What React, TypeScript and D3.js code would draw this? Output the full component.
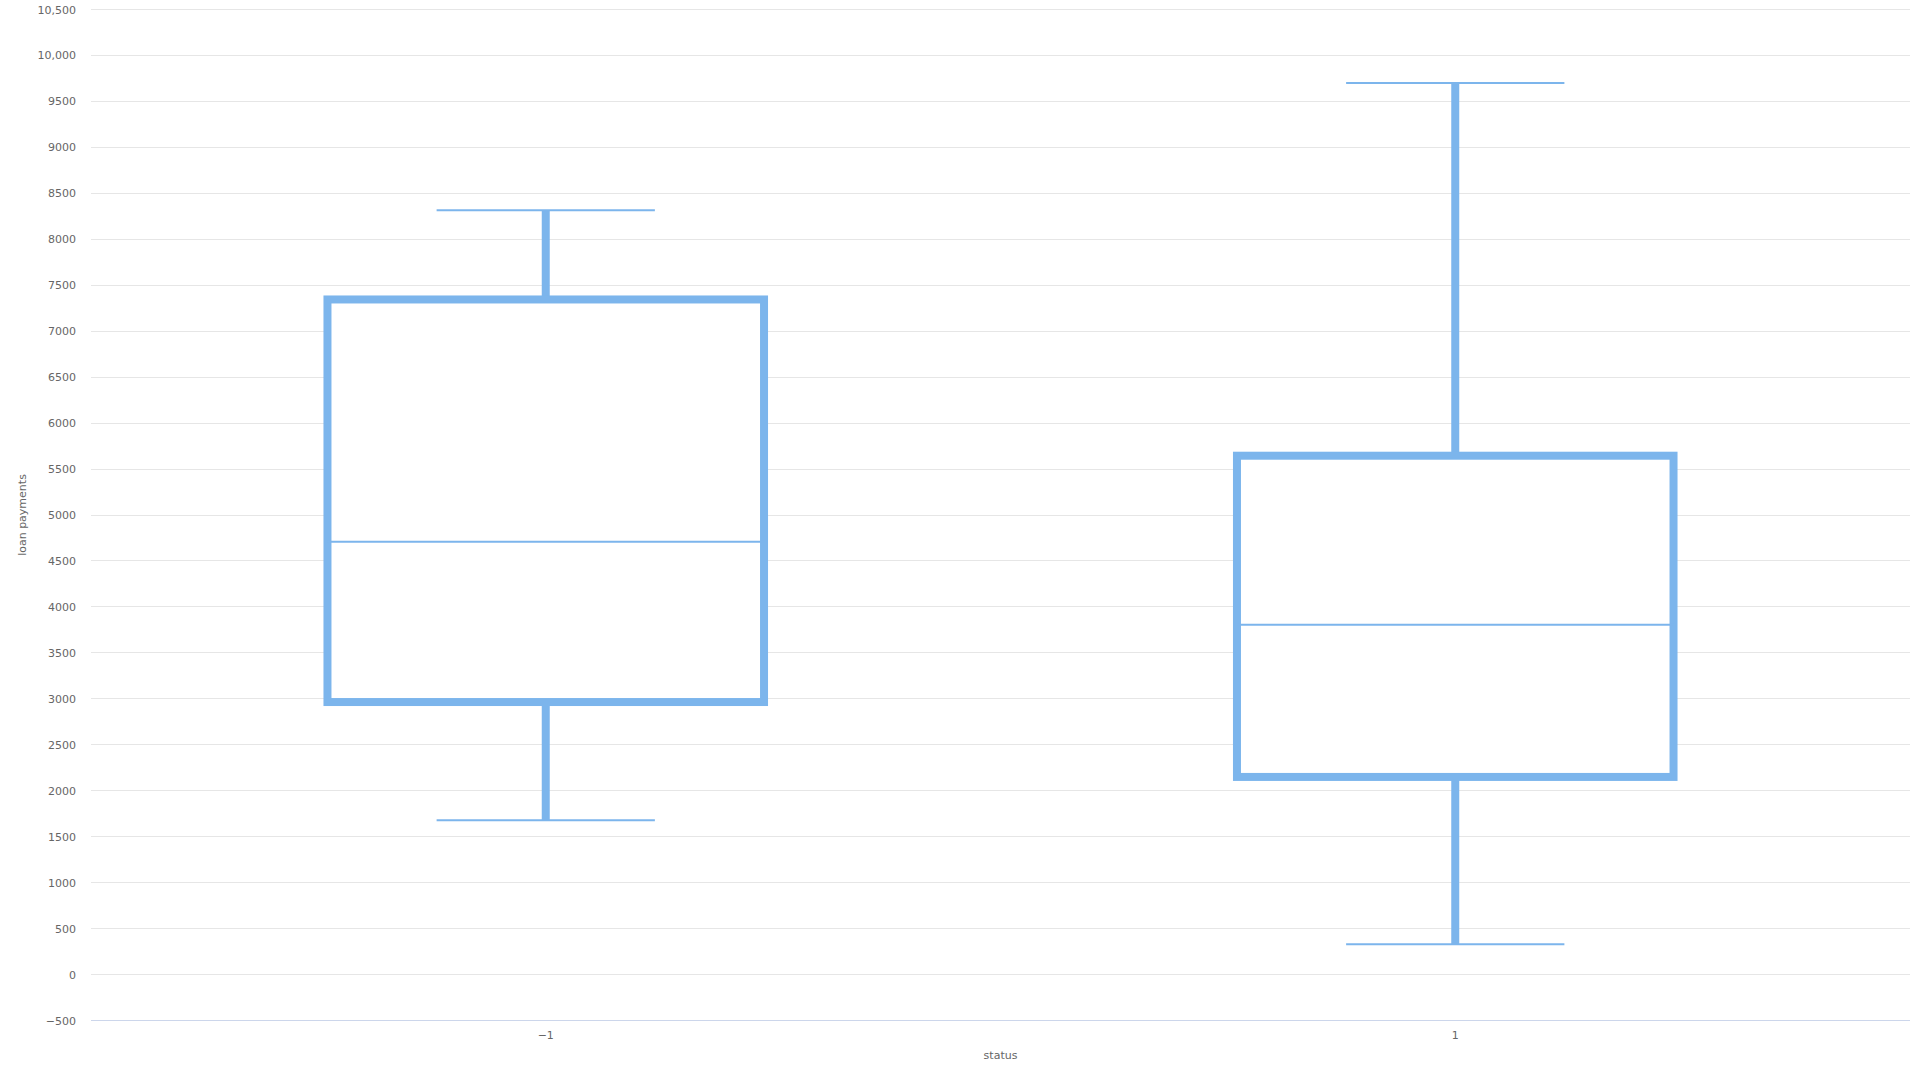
import { useRef, useEffect } from 'react';
import * as d3 from 'd3';

// box plot data
const categories = ['-1', '1'];
const lowValues = [1680, 330];
const q1Values = [2965, 2150];
const medianValues = [4710, 3805];
const q3Values = [7345, 5645];
const highValues = [8315, 9700];

const yTicks = [-500, 0, 500, 1000, 1500, 2000, 2500, 3000, 3500, 4000, 4500, 5000,
  5500, 6000, 6500, 7000, 7500, 8000, 8500, 9000, 9500, 10000, 10500];

const WIDTH = 1920;
const HEIGHT = 1080;
const FONT = '"DejaVu Sans", "Lucida Grande", sans-serif';
const COLOR = '#7cb5ec';

const App = () => {
  const svgRef = useRef<SVGSVGElement>(null);

  useEffect(() => {
    const svg = d3.select(svgRef.current);
    svg.selectAll('*').remove();

    const left = 91;
    const right = 1910;
    const top = 9.5;
    const bottom = 1020.5;

    const x = d3.scaleBand<string>()
      .domain(categories)
      .range([left, right])
      .padding(0);

    const y = d3.scaleLinear()
      .domain([-500, 10500])
      .range([bottom, top]);

    const crisp = (v: number) => Math.round(v - 0.5) + 0.5;

    // grid lines
    svg.append('g')
      .selectAll('line')
      .data(yTicks.filter(t => t !== -500))
      .enter()
      .append('line')
      .attr('x1', left)
      .attr('x2', right)
      .attr('y1', d => crisp(y(d)))
      .attr('y2', d => crisp(y(d)))
      .attr('stroke', '#e6e6e6')
      .attr('stroke-width', 1);

    // x axis line
    svg.append('line')
      .attr('x1', left)
      .attr('x2', right)
      .attr('y1', crisp(y(-500)))
      .attr('y2', crisp(y(-500)))
      .attr('stroke', '#ccd6eb')
      .attr('stroke-width', 1);

    // y tick labels
    svg.append('g')
      .selectAll('text')
      .data(yTicks)
      .enter()
      .append('text')
      .attr('x', 76)
      .attr('y', d => y(d) + 4)
      .attr('text-anchor', 'end')
      .attr('font-family', FONT)
      .attr('font-size', 11)
      .attr('fill', '#666666')
      .text(d => (Math.abs(d) >= 10000 ? d3.format(',')(d) : String(d)).replace('-', '\u2212'));

    // x tick labels
    svg.append('g')
      .selectAll('text')
      .data(categories)
      .enter()
      .append('text')
      .attr('x', d => (x(d) as number) + x.bandwidth() / 2)
      .attr('y', 1039)
      .attr('text-anchor', 'middle')
      .attr('font-family', FONT)
      .attr('font-size', 11)
      .attr('fill', '#666666')
      .text(d => d.replace('-', '\u2212'));

    // axis titles
    svg.append('text')
      .attr('x', (left + right) / 2)
      .attr('y', 1059)
      .attr('text-anchor', 'middle')
      .attr('font-family', FONT)
      .attr('font-size', 11)
      .attr('fill', '#666666')
      .text('status');

    svg.append('text')
      .attr('transform', `translate(26, ${(top + bottom) / 2}) rotate(-90)`)
      .attr('text-anchor', 'middle')
      .attr('font-family', FONT)
      .attr('font-size', 11)
      .attr('fill', '#666666')
      .text('loan payments');

    // boxes
    const boxWidth = x.bandwidth() * 0.6 * 0.8;
    const data = categories.map((c, i) => ({
      c,
      low: lowValues[i],
      q1: q1Values[i],
      median: medianValues[i],
      q3: q3Values[i],
      high: highValues[i],
    }));

    const g = svg.append('g');
    data.forEach(d => {
      const cx = (x(d.c) as number) + x.bandwidth() / 2;
      const x0 = cx - boxWidth / 2;
      const x1 = cx + boxWidth / 2;

      // stems
      g.append('line')
        .attr('x1', cx).attr('x2', cx)
        .attr('y1', y(d.high)).attr('y2', y(d.q3))
        .attr('stroke', COLOR).attr('stroke-width', 8);
      g.append('line')
        .attr('x1', cx).attr('x2', cx)
        .attr('y1', y(d.q1)).attr('y2', y(d.low))
        .attr('stroke', COLOR).attr('stroke-width', 8);

      // whiskers
      [d.high, d.low].forEach(v => {
        g.append('line')
          .attr('x1', cx - boxWidth / 4).attr('x2', cx + boxWidth / 4)
          .attr('y1', y(v)).attr('y2', y(v))
          .attr('stroke', COLOR).attr('stroke-width', 2);
      });

      // box
      g.append('rect')
        .attr('x', x0)
        .attr('y', y(d.q3))
        .attr('width', x1 - x0)
        .attr('height', y(d.q1) - y(d.q3))
        .attr('fill', '#ffffff')
        .attr('stroke', COLOR)
        .attr('stroke-width', 8);

      // median
      g.append('line')
        .attr('x1', x0).attr('x2', x1)
        .attr('y1', y(d.median)).attr('y2', y(d.median))
        .attr('stroke', COLOR).attr('stroke-width', 2);
    });
  }, []);

  return (
    <svg
      ref={svgRef}
      width={WIDTH}
      height={HEIGHT}
      style={{ position: 'absolute', left: 0, top: 0, background: '#ffffff' }}
    />
  );
};

export default App;
